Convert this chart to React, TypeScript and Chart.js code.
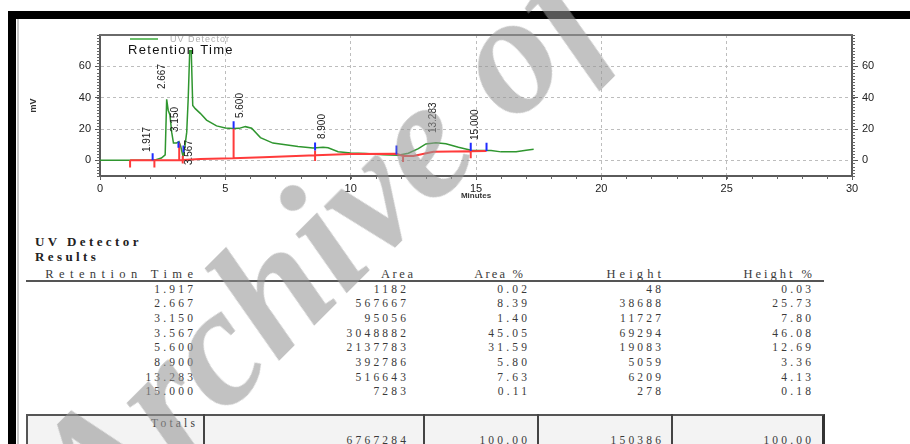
import React, { useEffect, useRef } from 'react';
import { Chart, registerables } from 'chart.js';

Chart.register(...registerables);

// ---------------- chromatogram data ----------------
const traceMinutes = [0, 1.0, 2.0, 2.2, 2.45, 2.6, 2.66, 2.72, 2.79, 2.86, 2.93, 3.05, 3.15, 3.22, 3.31, 3.38, 3.46, 3.52, 3.58, 3.64, 3.7, 3.8, 4.0, 4.25, 4.65, 5.0, 5.3, 5.55, 5.8, 6.05, 6.4, 6.9, 7.4, 7.9, 8.5, 8.9, 9.1, 9.5, 10.0, 10.6, 11.3, 11.9, 12.3, 12.7, 13.0, 13.4, 13.8, 14.3, 14.8, 15.2, 15.6, 16.0, 16.6, 17.0, 17.3];
const traceMv = [0, 0, 0, 0.3, 1.5, 3.5, 39, 32, 29, 18, 11, 11, 12, 9, 2.5, 8, 18, 40, 70, 70, 35, 33, 30, 25.7, 22, 20.6, 20.3, 20.4, 21.5, 20.5, 14.5, 11, 10, 8.8, 7.8, 8.3, 8, 5.5, 4.7, 4.4, 3.6, 3.2, 4.5, 7.5, 10.5, 11.2, 10.6, 8.3, 6.5, 6.2, 6.2, 5.4, 5.5, 6.5, 7];

const baselineMinutes = [1.2, 2.2, 3.3, 4.0, 5.3, 6.5, 8.6, 10.0, 11.83, 12.09, 12.5, 13.3, 14.79, 15.42];
const baselineMv = [0, 0, 0.2, 0.8, 1.3, 2.0, 3.2, 4.0, 4.2, 2.7, 2.8, 5.5, 5.8, 6.0];

const redMarkMinutes = [1.2, 2.17, 3.16, 3.3, 5.33, 8.58, 12.09, 14.79];
const redMarkLow = [-4.5, -4.5, 0.5, -2, 0.8, -0.4, -1, 1.3];
const redMarkHigh = [0, 0, 11, 3, 20.3, 6.2, 3.8, 5.9];

const blueMarkMinutes = [2.1, 3.13, 3.33, 5.33, 8.58, 11.83, 14.79, 15.42];
const blueMarkLow = [0, 8, 5, 20.3, 6.3, 3.8, 5.9, 5.9];
const blueMarkHigh = [4.5, 12, 9.5, 25, 11.4, 9.5, 11.2, 11.2];

const peakNames = ['1.917', '2.667', '3.150', '3.567', '5.600', '8.900', '13.283', '15.000'];
const peakLabelMinutes = [1.87, 2.47, 3.0, 3.55, 5.58, 8.85, 13.28, 14.96];
const peakLabelMv = [5.3, 45.5, 18.1, -3.0, 27, 13.6, 17.4, 13];

const xTicks = [0, 5, 10, 15, 20, 25, 30];
const yTicks = [0, 20, 40, 60];
const xRange = [0, 30];
const yRange = [-10, 80];
const xMinorStep = 1;
const yMinorStep = 2;

// ---------------- results table data ----------------
const tableHeaders = ['Retention Time', 'Area', 'Area %', 'Height', 'Height %'];
const retentionTimes = ['1.917', '2.667', '3.150', '3.567', '5.600', '8.900', '13.283', '15.000'];
const areas = ['1182', '567667', '95056', '3048882', '2137783', '392786', '516643', '7283'];
const areaPercents = ['0.02', '8.39', '1.40', '45.05', '31.59', '5.80', '7.63', '0.11'];
const heights = ['48', '38688', '11727', '69294', '19083', '5059', '6209', '278'];
const heightPercents = ['0.03', '25.73', '7.80', '46.08', '12.69', '3.36', '4.13', '0.18'];
const totals = ['', '6767284', '100.00', '150386', '100.00'];

const toPoints = (xs: number[], ys: number[]) => xs.map((x, i) => ({ x, y: ys[i] }));
const toSegments = (xs: number[], lo: number[], hi: number[]) =>
  xs.flatMap((x, i) => [{ x, y: lo[i] }, { x, y: hi[i] }, { x, y: null as any }]);

const FONT = 'Liberation Sans';

const overlayPlugin = {
  id: 'overlay',
  afterDraw(chart: any) {
    const { ctx, chartArea: a, scales } = chart;
    const xs = scales.x;
    const ys = scales.y;
    ctx.save();
    // top frame line
    ctx.strokeStyle = '#6a6a6a';
    ctx.lineWidth = 2;
    ctx.beginPath();
    ctx.moveTo(a.left - 1, a.top);
    ctx.lineTo(a.right + 1, a.top);
    ctx.stroke();
    // minor ticks
    ctx.strokeStyle = '#666';
    ctx.lineWidth = 1;
    ctx.beginPath();
    for (let v = yRange[0]; v <= yRange[1]; v += yMinorStep) {
      const py = Math.round(ys.getPixelForValue(v)) + 0.5;
      ctx.moveTo(a.left - 3, py);
      ctx.lineTo(a.left, py);
      ctx.moveTo(a.right, py);
      ctx.lineTo(a.right + 3, py);
    }
    for (let m = xRange[0]; m <= xRange[1]; m += xMinorStep) {
      const px = Math.round(xs.getPixelForValue(m)) + 0.5;
      ctx.moveTo(px, a.bottom);
      ctx.lineTo(px, a.bottom + 3);
    }
    ctx.stroke();
    // peak labels
    ctx.fillStyle = '#1a1a1a';
    ctx.font = `10px "${FONT}"`;
    ctx.textAlign = 'left';
    ctx.textBaseline = 'middle';
    peakNames.forEach((t, i) => {
      const px = xs.getPixelForValue(peakLabelMinutes[i]);
      const py = ys.getPixelForValue(peakLabelMv[i]);
      ctx.save();
      ctx.translate(px, py);
      ctx.rotate(-Math.PI / 2);
      ctx.fillText(t, 0, 0);
      ctx.restore();
    });
    // legend
    const lx = a.left + 30;
    const ly = a.top + 4;
    ctx.strokeStyle = '#6cbf6c';
    ctx.lineWidth = 2;
    ctx.beginPath();
    ctx.moveTo(lx, ly);
    ctx.lineTo(lx + 28, ly);
    ctx.stroke();
    ctx.fillStyle = '#b0b0b0';
    ctx.font = `9px "${FONT}"`;
    ctx.textBaseline = 'middle';
    (ctx as any).letterSpacing = '1px';
    ctx.fillText(chart.data.datasets[2].label, lx + 40, ly + 1);
    ctx.fillStyle = '#111';
    ctx.font = `13px "${FONT}"`;
    (ctx as any).letterSpacing = '1.3px';
    ctx.fillText('Retention Time', lx - 2, ly + 11);
    (ctx as any).letterSpacing = '0px';
    ctx.restore();
  },
};

function ChromatogramChart() {
  const ref = useRef<HTMLCanvasElement | null>(null);
  useEffect(() => {
    if (!ref.current) return;
    const tickFont = { family: FONT, size: 11 };
    const gridColor = (c: any) =>
      c.tick && (c.tick.value === xRange[0] || c.tick.value === xRange[1]) ? 'rgba(0,0,0,0)' : '#bdbdbd';
    const chart = new Chart(ref.current, {
      type: 'line',
      data: {
        datasets: [
          {
            label: 'marks',
            data: toSegments(blueMarkMinutes, blueMarkLow, blueMarkHigh),
            borderColor: '#1f2cff',
            borderWidth: 2,
            pointRadius: 0,
            spanGaps: false,
          },
          {
            label: 'drops',
            data: [...toSegments(redMarkMinutes, redMarkLow, redMarkHigh), ...toPoints(baselineMinutes, baselineMv)],
            borderColor: '#ff3b3b',
            borderWidth: 2,
            pointRadius: 0,
            spanGaps: false,
          },
          {
            label: 'UV Detector',
            data: toPoints(traceMinutes, traceMv),
            borderColor: '#2f962f',
            borderWidth: 1.5,
            pointRadius: 0,
          },
        ],
      },
      options: {
        animation: false,
        responsive: false,
        devicePixelRatio: 1,
        events: [],
        layout: { padding: { left: 20, right: 18, top: 35, bottom: 8 } },
        plugins: { legend: { display: false }, tooltip: { enabled: false } },
        scales: {
          x: {
            type: 'linear',
            min: xRange[0],
            max: xRange[1],
            afterBuildTicks: (s: any) => {
              s.ticks = xTicks.map((v) => ({ value: v }));
            },
            ticks: { font: tickFont, color: '#222', padding: 2, maxRotation: 0 },
            grid: { color: gridColor, lineWidth: 1, tickLength: 4, tickColor: '#555', tickBorderDash: [] },
            border: { display: true, color: '#5a5a5a', width: 2, dash: [3, 3] },
            title: {
              display: true,
              text: 'Minutes',
              color: '#333',
              font: { family: FONT, size: 8, weight: 'bold' },
              padding: { top: 0, bottom: 1 },
            },
            afterFit: (s: any) => {
              s.height = 26;
            },
          },
          y: {
            position: 'left',
            min: yRange[0],
            max: yRange[1],
            afterBuildTicks: (s: any) => {
              s.ticks = yTicks.map((v) => ({ value: v }));
            },
            ticks: { font: tickFont, color: '#222', padding: 4 },
            grid: { color: '#bdbdbd', lineWidth: 1, tickLength: 5, tickColor: '#555', tickBorderDash: [] },
            border: { display: true, color: '#5a5a5a', width: 2, dash: [3, 3] },
            title: {
              display: true,
              text: 'mV',
              color: '#333',
              font: { family: FONT, size: 9, weight: 'bold' },
              padding: { top: 8, bottom: 0 },
            },
            afterFit: (s: any) => {
              s.width = 80;
            },
          },
          y2: {
            position: 'right',
            min: yRange[0],
            max: yRange[1],
            afterBuildTicks: (s: any) => {
              s.ticks = yTicks.map((v) => ({ value: v }));
            },
            ticks: { font: tickFont, color: '#222', padding: 4 },
            grid: { drawOnChartArea: false, tickLength: 6, tickColor: '#555', tickBorderDash: [] },
            border: { display: true, color: '#5a5a5a', width: 2 },
            afterFit: (s: any) => {
              s.width = 40;
            },
          },
        },
      } as any,
      plugins: [overlayPlugin],
    });
    return () => chart.destroy();
  }, []);
  return (
    <canvas
      ref={ref}
      width={910}
      height={210}
      style={{ position: 'absolute', left: 0, top: 0, width: 910, height: 210 }}
    />
  );
}

const colRight = [193, 406, 527, 661, 811];
const headerRight = [193, 413, 523, 661, 812];
const headerSpacing = [5.4, 2.6, 2.2, 4.1, 3];
const rowTop0 = 281.5;
const rowStep = 14.7;

const serif = '"Liberation Serif", "DejaVu Serif", serif';

function Txt({ right, top, children, size = 11.5, bold = false, spacing = 3.2, color = '#3a3a3a' }: any) {
  return (
    <div
      style={{
        position: 'absolute',
        right: 910 - right - spacing,
        top,
        fontFamily: serif,
        fontSize: size,
        fontWeight: bold ? 'bold' : 'normal',
        letterSpacing: spacing,
        lineHeight: '14px',
        color,
        whiteSpace: 'nowrap',
        textAlign: 'right',
      }}
    >
      {children}
    </div>
  );
}

export default function App() {
  const columns = [retentionTimes, areas, areaPercents, heights, heightPercents];
  return (
    <div
      style={{
        position: 'fixed',
        left: 0,
        top: 0,
        width: 910,
        height: 444,
        overflow: 'hidden',
        background: '#fff',
      }}
    >
      <div style={{ position: 'absolute', left: 8, top: 11, width: 902, height: 8, background: '#000' }} />
      <div style={{ position: 'absolute', left: 8, top: 11, width: 8, height: 433, background: '#000' }} />
      <div style={{ position: 'absolute', left: 17, top: 19, width: 2, height: 425, background: '#c8c8c8' }} />

      <ChromatogramChart />

      <div
        style={{
          position: 'absolute',
          left: 35,
          top: 234,
          fontFamily: serif,
          fontSize: 13,
          fontWeight: 'bold',
          letterSpacing: 3.4,
          lineHeight: '15px',
          color: '#222',
        }}
      >
        UV Detector
        <br />
        Results
      </div>

      {tableHeaders.map((h, i) => (
        <Txt key={'h' + i} right={headerRight[i]} top={266.5} size={12.5} spacing={headerSpacing[i]}>
          {h}
        </Txt>
      ))}
      <div style={{ position: 'absolute', left: 26, top: 280, width: 798, height: 1.5, background: '#555' }} />

      {columns.map((col, c) =>
        col.map((v, r) => (
          <Txt key={c + '-' + r} right={colRight[c]} top={rowTop0 + r * rowStep}>
            {v}
          </Txt>
        ))
      )}

      <div
        style={{
          position: 'absolute',
          left: 26,
          top: 414,
          width: 794,
          height: 60,
          background: '#f3f3f3',
          borderTop: '2px solid #555',
          borderLeft: '2px solid #555',
          borderRight: '3px solid #333',
        }}
      />
      {[203, 423, 537, 671].map((x) => (
        <div key={x} style={{ position: 'absolute', left: x, top: 414, width: 2, height: 40, background: '#444' }} />
      ))}
      <Txt right={195} top={416}>
        Totals
      </Txt>
      {totals.map((v, i) =>
        v ? (
          <Txt key={'t' + i} right={colRight[i]} top={433}>
            {v}
          </Txt>
        ) : null
      )}

      <div
        style={{
          position: 'absolute',
          left: -4,
          top: 443,
          fontFamily: serif,
          fontStyle: 'italic',
          fontWeight: 'bold',
          fontSize: 170,
          lineHeight: 1,
          color: 'rgba(150,150,150,0.58)',
          whiteSpace: 'nowrap',
          transformOrigin: '0 0',
          transform: 'rotate(-45deg)',
          pointerEvents: 'none',
        }}
      >
        Archive of SID
      </div>
    </div>
  );
}
